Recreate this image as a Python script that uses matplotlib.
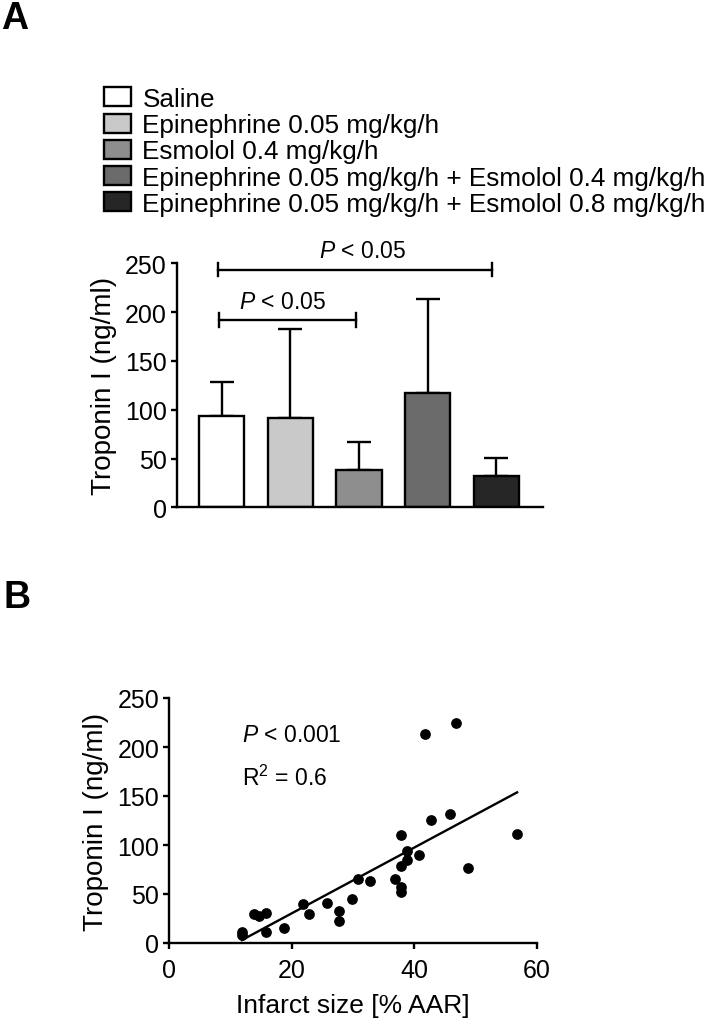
import numpy as np
import matplotlib
matplotlib.use("Agg")
import matplotlib.pyplot as plt

plt.rcParams['font.family'] = ['Liberation Sans', 'DejaVu Sans']
plt.rcParams['mathtext.fontset'] = 'custom'
plt.rcParams['mathtext.rm'] = 'Liberation Sans'
plt.rcParams['mathtext.it'] = 'Liberation Sans:italic'
plt.rcParams['mathtext.bf'] = 'Liberation Sans:bold'

# ---------------- data ----------------
groups = ["Saline",
          "Epinephrine 0.05 mg/kg/h",
          "Esmolol 0.4 mg/kg/h",
          "Epinephrine 0.05 mg/kg/h + Esmolol 0.4 mg/kg/h",
          "Epinephrine 0.05 mg/kg/h + Esmolol 0.8 mg/kg/h"]
troponin_mean = [93.6, 91.5, 38.3, 116.8, 31.8]
troponin_sd = [34.8, 90.9, 28.7, 96.3, 18.7]
bar_colors = ["#ffffff", "#c9c9c9", "#8e8e8e", "#6b6b6b", "#262626"]

infarct_size = [11.9, 11.9, 13.8, 14.7, 15.8, 15.8, 18.8, 21.8, 22.8, 25.8,
                27.8, 27.8, 29.8, 30.8, 32.8, 36.8, 37.8, 37.8, 37.8, 37.8,
                38.8, 38.8, 40.8, 41.8, 42.8, 45.8, 46.8, 48.8, 56.8]
troponin_i = [11.6, 8.2, 29.6, 27.9, 30.3, 10.9, 15.3, 39.8, 29.3, 41.2,
              33.0, 22.1, 45.0, 65.0, 63.0, 65.0, 110.0, 79.0, 57.2, 51.8,
              94.3, 85.1, 90.3, 213.0, 125.7, 131.8, 224.0, 77.0, 111.0]

bar_ticks = [0, 50, 100, 150, 200, 250]
x_ticks = [0, 20, 40, 60]

W, H = 710, 1020
fig = plt.figure(figsize=(W / 100, H / 100), dpi=100)

LW = 1.7
FS = 18
FS_LAB = 20
FS_ANN = 16.5

# ---------------- panel A ----------------
ax1 = fig.add_axes([176.7 / W, (H - 508.3) / H, 366.3 / W, 244 / H])
pos = np.arange(len(groups))
zeros = np.zeros(len(groups))
ax1.errorbar(pos, troponin_mean, yerr=[zeros, troponin_sd], fmt='none',
             ecolor='black', elinewidth=LW, capsize=8.3, capthick=LW, zorder=1)
bars = ax1.bar(pos, troponin_mean, width=0.66, color=bar_colors,
               edgecolor='black', linewidth=LW, zorder=2)
ax1.set_xlim(-0.657, 4.68)
ax1.set_ylim(0, 250)
ax1.set_yticks(bar_ticks)
ax1.set_xticks([])
for s in ['top', 'right']:
    ax1.spines[s].set_visible(False)
for s in ['left', 'bottom']:
    ax1.spines[s].set_linewidth(LW)
ax1.tick_params(axis='y', length=4, width=LW, labelsize=FS, pad=3)
ax1.set_ylabel("Troponin I (ng/ml)", fontsize=FS_LAB, labelpad=6)

# significance brackets
def bracket(ax, x0, x1, y, h=7):
    ax.plot([x0, x1], [y, y], color='black', lw=LW, clip_on=False)
    ax.plot([x0, x0], [y - h, y + h], color='black', lw=LW, clip_on=False)
    ax.plot([x1, x1], [y - h, y + h], color='black', lw=LW, clip_on=False)

bracket(ax1, -0.05, 3.93, 243.5)
ax1.text(2.05, 251, r'$\it{P}$ < 0.05', ha='center', va='bottom', fontsize=FS_ANN)
bracket(ax1, -0.04, 1.96, 192)
ax1.text(0.89, 199.5, r'$\it{P}$ < 0.05', ha='center', va='bottom', fontsize=FS_ANN)

fig.legend(handles=list(bars.patches), labels=groups, loc='upper left',
           bbox_to_anchor=(104 / W, 1 - 88 / H), frameon=False,
           fontsize=18.8, handlelength=1.05, handleheight=0.75, handletextpad=0.42,
           labelspacing=0.085, borderaxespad=0, borderpad=0)

# ---------------- panel B ----------------
ax2 = fig.add_axes([169 / W, 76 / H, 367.7 / W, 245 / H])
ax2.scatter(infarct_size, troponin_i, s=45, color='black', zorder=3,
            clip_on=False)
slope, intercept = np.polyfit(infarct_size, troponin_i, 1)
xf = np.array([min(infarct_size), max(infarct_size)])
ax2.plot(xf, slope * xf + intercept, color='black', lw=LW)
ax2.set_xlim(0, 60)
ax2.set_ylim(0, 250)
ax2.set_xticks(x_ticks)
ax2.set_yticks(bar_ticks)
for s in ['top', 'right']:
    ax2.spines[s].set_visible(False)
for s in ['left', 'bottom']:
    ax2.spines[s].set_linewidth(LW)
ax2.tick_params(axis='y', length=4, width=LW, labelsize=FS, pad=3)
ax2.tick_params(axis='x', length=4, width=LW, labelsize=FS, pad=7)
ax2.set_ylabel("Troponin I (ng/ml)", fontsize=FS_LAB, labelpad=6)
ax2.set_xlabel("Infarct size [% AAR]", fontsize=19, labelpad=8)
ax2.text(11.9, 213, r'$\it{P}$ < 0.001', ha='left', va='center', fontsize=FS_ANN)
ax2.text(11.9, 169, r'R$^2$ = 0.6', ha='left', va='center', fontsize=FS_ANN)

fig.text(1 / W, 1 - 29 / H, "A", fontsize=27, fontweight='bold', va='baseline')
fig.text(3 / W, 1 - 608 / H, "B", fontsize=27, fontweight='bold', va='baseline')

fig.savefig("out.png", dpi=100)
